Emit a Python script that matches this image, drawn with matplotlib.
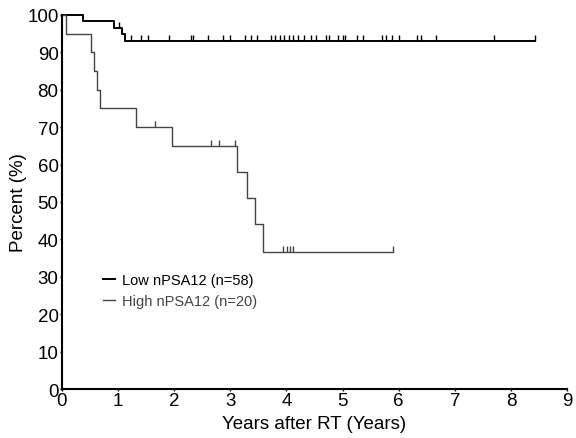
import numpy as np
import matplotlib
matplotlib.use("Agg")
import matplotlib.pyplot as plt
from matplotlib.path import Path

plt.rcParams['font.family'] = ['Liberation Sans', 'DejaVu Sans']

# Low nPSA12 group (n=58)
low_times = [0, 0.37, 0.93, 1.07, 1.13]
low_surv = [100, 98.3, 96.5, 95, 93]
low_end = 8.42
low_censor = [1.02, 1.23, 1.40, 1.53, 1.91, 2.30, 2.33, 2.61, 2.86, 3.00, 3.26,
              3.37, 3.47, 3.72, 3.79, 3.88, 3.96, 4.05, 4.12, 4.21, 4.32, 4.44,
              4.53, 4.70, 4.75, 4.91, 5.00, 5.05, 5.26, 5.37, 5.70, 5.77, 5.88,
              6.00, 6.33, 6.40, 6.67, 7.70, 8.42]

# High nPSA12 group (n=20)
high_times = [0, 0.08, 0.52, 0.57, 0.62, 0.68, 1.32, 1.96, 3.11, 3.30, 3.44, 3.58]
high_surv = [100, 95, 90, 85, 80, 75, 70, 65, 58, 51, 44, 36.5]
high_end = 5.90
high_censor = [1.66, 2.65, 2.80, 3.09, 3.94, 4.01, 4.06, 4.12, 5.90]

x_ticks = [0, 1, 2, 3, 4, 5, 6, 7, 8, 9]
y_ticks = [0, 10, 20, 30, 40, 50, 60, 70, 80, 90, 100]

fig = plt.figure(figsize=(5.76, 4.39), dpi=100)
ax = fig.add_axes([0.1076, 0.1116, 0.8770, 0.852])

up_tick = Path([(0, 0), (0, 1)], [Path.MOVETO, Path.LINETO])

def draw(times, surv, end, censor, color, lw, label):
    t = list(times) + [end]
    s = list(surv) + [surv[-1]]
    ax.step(t, s, where='post', color=color, lw=lw, label=label, clip_on=False)
    idx = np.searchsorted(times, censor, side='right') - 1
    lv = np.array(surv)[idx]
    ax.plot(censor, lv, linestyle='none', marker=up_tick, markersize=8,
            markeredgewidth=1.0, color=color, clip_on=False)

draw(low_times, low_surv, low_end, low_censor, 'black', 1.4, 'Low nPSA12 (n=58)')
draw(high_times, high_surv, high_end, high_censor, '#444444', 1.0, 'High nPSA12 (n=20)')

ax.set_xlim(0, 9)
ax.set_ylim(0, 100)
ax.set_xticks(x_ticks)
ax.set_yticks(y_ticks)
ax.tick_params(axis='both', labelsize=13.5, length=1.5, width=1, pad=1)
for s in ['top', 'right']:
    ax.spines[s].set_visible(False)
for s in ['left', 'bottom']:
    ax.spines[s].set_linewidth(1.5)
ax.set_xlabel('Years after RT (Years)', fontsize=13.5)
ax.set_ylabel('Percent (%)', fontsize=13.5)
ax.yaxis.set_label_coords(-0.069, 0.5)
ax.xaxis.set_label_coords(0.5, -0.07)

leg = ax.legend(loc='upper left', bbox_to_anchor=(0.055, 0.345), frameon=False,
                fontsize=10.5, handlelength=0.8, handletextpad=0.5, labelspacing=0.5)
leg.get_texts()[1].set_color('#444444')

fig.savefig('out.png', dpi=100)
